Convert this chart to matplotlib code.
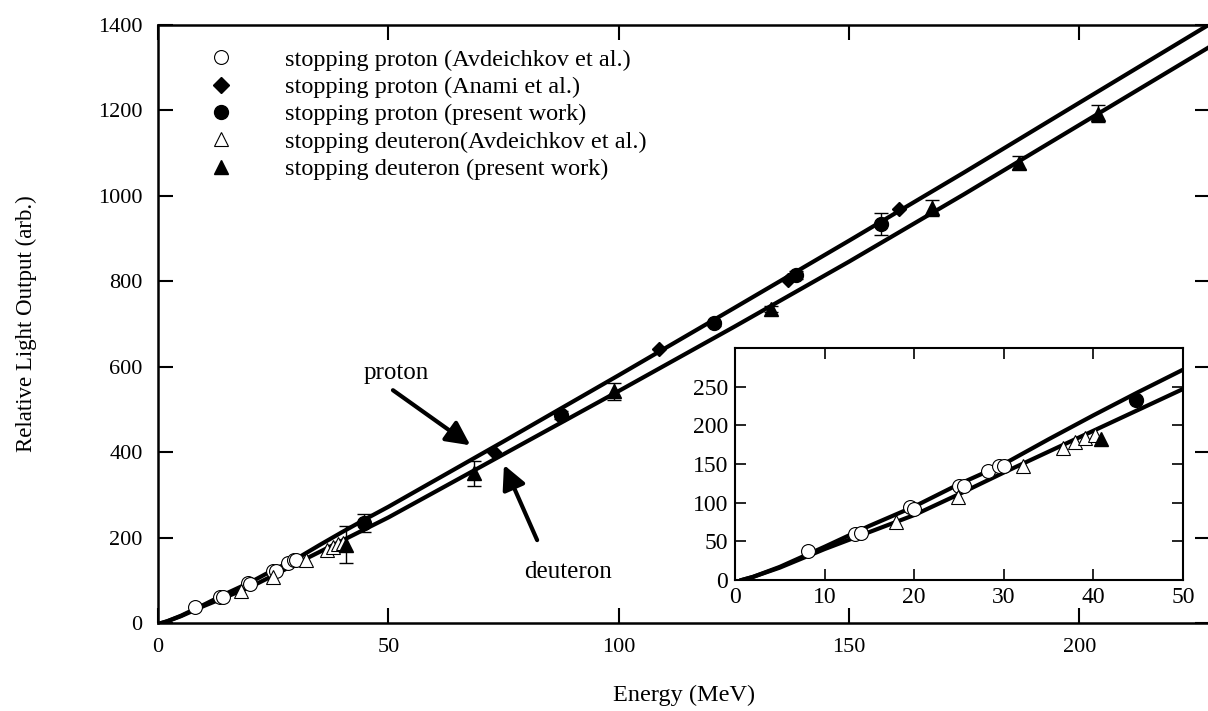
import matplotlib
matplotlib.use('Agg')
import matplotlib.pyplot as plt
from matplotlib.lines import Line2D

plt.rcParams['font.family'] = ['Liberation Serif', 'DejaVu Serif']

# fit curves (energy in MeV, light output in arb. units)
fit_e = [0.75, 2, 5, 10, 15, 20, 25, 30, 35, 40, 45, 50, 75, 100, 125, 150, 175, 200, 230]
fit_proton = [0, 4, 17, 43, 70, 95, 124, 150, 182, 213, 243, 272, 425, 580, 737, 895, 1055, 1218, 1413]
fit_deuteron = [0, 4, 16, 40, 62, 84, 111, 139, 166, 193, 220, 247, 395, 543, 693, 846, 1004, 1166, 1360]

# stopping proton (Avdeichkov et al.)
avd_p_e = [8.1, 13.4, 14.1, 19.5, 20.0, 25.0, 25.6, 28.2, 29.5, 30.0]
avd_p_l = [37, 60, 61, 94, 92, 121, 122, 141, 147, 148]

# stopping proton (Anami et al.)
anami_e = [72.9, 108.7, 136.8, 160.9]
anami_l = [401, 641, 803, 969]

# stopping proton (present work)
pw_p_e = [44.8, 87.4, 120.8, 138.4, 157.0]
pw_p_l = [233, 487, 702, 815, 934]
pw_p_err = [21, 10, 6, 10, 25]

# stopping deuteron (Avdeichkov et al.)
avd_d_e = [18.0, 24.9, 32.1, 36.6, 37.9, 39.1, 40.2]
avd_d_l = [75, 108, 147, 171, 178, 184, 188]

# stopping deuteron (present work)
pw_d_e = [40.9, 68.7, 99.0, 133.0, 168.0, 186.9, 204.0]
pw_d_l = [183, 350, 542, 735, 971, 1078, 1192]
pw_d_err = [43, 29, 20, 6, 19, 15, 20]

labels = ['stopping proton (Avdeichkov et al.)',
          'stopping proton (Anami et al.)',
          'stopping proton (present work)',
          'stopping deuteron(Avdeichkov et al.)',
          'stopping deuteron (present work)']


def draw_data(ax, ms, errors=True):
    ax.plot(fit_e, fit_proton, color='k', lw=3, zorder=2)
    ax.plot(fit_e, fit_deuteron, color='k', lw=3, zorder=2)
    ax.plot(avd_p_e, avd_p_l, 'o', mfc='white', mec='k', mew=0.8, ms=ms, ls='none', zorder=3)
    ax.plot(avd_d_e, avd_d_l, '^', mfc='white', mec='k', mew=0.8, ms=ms, ls='none', zorder=3)
    ax.plot(anami_e, anami_l, 'D', color='k', ms=ms * 0.75, ls='none', zorder=3)
    if errors:
        ax.errorbar(pw_p_e, pw_p_l, yerr=pw_p_err, fmt='o', color='k', ms=ms,
                    ecolor='k', elinewidth=1, capsize=5, capthick=1, zorder=4)
        ax.errorbar(pw_d_e, pw_d_l, yerr=pw_d_err, fmt='^', color='k', ms=ms,
                    ecolor='k', elinewidth=1, capsize=5, capthick=1, zorder=4)
    else:
        ax.plot(pw_p_e, pw_p_l, 'o', color='k', ms=ms, ls='none', zorder=4)
        ax.plot(pw_d_e, pw_d_l, '^', color='k', ms=ms, ls='none', zorder=4)


fig = plt.figure(figsize=(12.08, 7.11), dpi=100)
ax = fig.add_axes([0.1308, 0.1238, 0.871, 0.841])
draw_data(ax, 10)
ax.set_xlim(0, 228.4)
ax.set_ylim(0, 1400)
ax.set_xticks([0, 50, 100, 150, 200])
ax.set_yticks(range(0, 1401, 200))
ax.tick_params(direction='in', top=True, right=True, length=11, width=1.5,
               labelsize=16, pad=11)
for s in ax.spines.values():
    s.set_linewidth(1.8)
ax.set_xlabel('Energy (MeV)', fontsize=17.5, labelpad=20)
ax.set_ylabel('Relative Light Output (arb.)', fontsize=16.5, labelpad=44)

# arrows pointing to the two fits
arrow = dict(arrowstyle='-|>', color='k', lw=3, mutation_scale=36, shrinkA=0, shrinkB=0)
ax.annotate('', xy=(67.8, 416), xytext=(51.0, 545), arrowprops=arrow)
ax.text(51.7, 585, 'proton', fontsize=18, ha='center', va='center')
ax.annotate('', xy=(75.1, 370), xytext=(82.3, 194), arrowprops=arrow)
ax.text(88.9, 120, 'deuteron', fontsize=18, ha='center', va='center')

handles = [
    Line2D([], [], marker='o', ls='none', mfc='white', mec='k', mew=0.8, ms=10),
    Line2D([], [], marker='D', ls='none', color='k', ms=8),
    Line2D([], [], marker='o', ls='none', color='k', ms=10),
    Line2D([], [], marker='^', ls='none', mfc='white', mec='k', mew=0.8, ms=10),
    Line2D([], [], marker='^', ls='none', color='k', ms=10),
]
ax.legend(handles, labels, loc='upper left', bbox_to_anchor=(0.028, 0.997),
          frameon=False, fontsize=17.5, handlelength=1.0, handletextpad=2.1,
          labelspacing=0.22)

# inset with the low energy region
ins = fig.add_axes([0.6084, 0.1842, 0.3709, 0.3263])
draw_data(ins, 10, errors=False)
ins.set_xlim(0, 50)
ins.set_ylim(0, 300)
ins.set_xticks(range(0, 51, 10))
ins.set_yticks(range(0, 251, 50))
ins.tick_params(direction='in', top=True, right=True, length=8, width=1.2,
                labelsize=17, pad=5)
for s in ins.spines.values():
    s.set_linewidth(1.5)

fig.savefig('out.png', dpi=100)
